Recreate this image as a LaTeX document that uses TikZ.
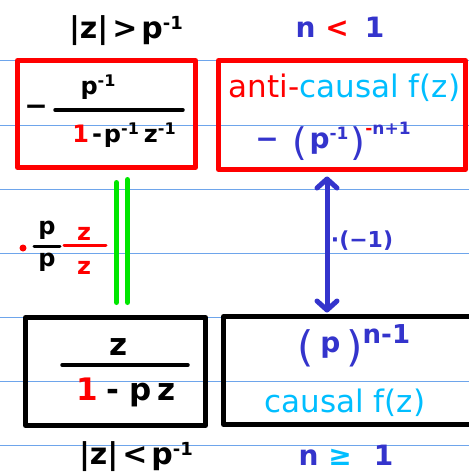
\documentclass[tikz,border=0pt]{standalone}
\usepackage{fontspec}
\setmainfont{DejaVu Sans}
\usetikzlibrary{arrows.meta}
\definecolor{rulec}{RGB}{110,165,235}
\definecolor{myblue}{RGB}{52,52,204}
\definecolor{myred}{RGB}{255,0,0}
\definecolor{mycyan}{RGB}{0,190,255}
\definecolor{mygreen}{RGB}{0,230,0}
\newcommand\supx[3]{\raisebox{#1}{\fontsize{#2}{#2}\selectfont #3}}
\newcommand\bigpar[1]{\raisebox{-7pt}{\fontsize{38}{38}\selectfont\mdseries #1}}
\newcommand\hugepar[1]{\raisebox{-9pt}{\fontsize{42}{42}\selectfont\mdseries #1}}
\begin{document}
\begin{tikzpicture}[x=1pt,y=-1pt,
  rule/.style={draw=rulec, line width=1pt},
  box/.style={draw, line width=5pt, inner sep=0pt, outer sep=0pt, line join=round},
  hw/.style={inner sep=0pt, font=\fontsize{28}{30}\selectfont\bfseries},
  hwt/.style={inner sep=0pt, font=\fontsize{30}{32}\selectfont\bfseries},
  hwf/.style={inner sep=0pt, font=\fontsize{24}{26}\selectfont\bfseries},
  hwl/.style={inner sep=0pt, font=\fontsize{31}{33}\selectfont\bfseries},
  typed/.style={inner sep=0pt, font=\fontsize{31}{33}\selectfont},
  fbar/.style={line width=3.5pt, line cap=round},
  gline/.style={draw=mygreen, line width=5pt, line cap=round},
  barrow/.style={draw=myblue, line width=5pt, {Straight Barb[length=9pt,width=20pt,round]}-{Straight Barb[length=9pt,width=20pt,round]}}]
\useasboundingbox (0,0) rectangle (469,472);
\clip (0,0) rectangle (469,472);
\fill[white] (0,0) rectangle (469,472);
\foreach \yy in {60,125,189,253,317,381,445} \draw[rule] (0,\yy) -- (469,\yy);

% boxes
\node[box, draw=myred, minimum width=178pt, minimum height=107pt] (tl) at (106.5,114) {};
\node[box, draw=myred, minimum width=247pt, minimum height=109pt] (tr) at (342,115) {};
\node[box, draw=black, minimum width=180pt, minimum height=108pt] (bl) at (115.5,371.5) {};
\node[box, draw=black, minimum width=257pt, minimum height=108pt] (br) at (352,370.5) {};

% top labels
\node[hwt, anchor=base] (c1) at (126,38) {|z|\hspace{4pt}>\hspace{4pt}p\supx{9pt}{18}{-1}};
\node[hw, anchor=base, text=myblue] (c2) at (340,37) {n\hspace{10pt}\textcolor{myred}{<}\hspace{16pt}1};

% top-left box
\node[hw, anchor=center] (tlm) at (36,110) {−};
\coordinate (tlb1) at (55,110);
\coordinate (tlb2) at (183,110);
\draw[fbar] (tlb1) -- (tlb2);
\node[hwf, anchor=base] (tln) at (98,94) {p\supx{8pt}{16}{-1}};
\node[hwf, anchor=base] (tld) at (124,142) {\textcolor{myred}{1}\hspace{3pt}-\hspace{2pt}p\supx{8pt}{16}{-1}\hspace{5pt}z\supx{8pt}{16}{-1}};

% top-right box
\node[typed, anchor=base] (tr1) at (344.5,97) {\textcolor{myred}{anti-}\textcolor{mycyan}{causal f(z)}};
\node[hw, anchor=base, text=myblue] (tr2) at (333,148) {−\hspace{14pt}\bigpar{(}\hspace{2pt}p\supx{9pt}{17}{-1}\hspace{2pt}\bigpar{)}\supx{14pt}{17}{\textcolor{myred}{-}n+1}};

% green equality
\coordinate (g1) at (116.5,0);
\coordinate (g2) at (127.5,0);
\draw[gline, shorten <=15pt, shorten >=15pt] (g1 |- tl.south) -- (g1 |- bl.north);
\draw[gline, shorten <=12pt, shorten >=15pt] (g2 |- tl.south) -- (g2 |- bl.north);

% left annotation
\node[circle, fill=myred, inner sep=0pt, minimum size=7pt] (dot) at (23,248) {};
\node[hwf, anchor=base] (pn) at (47,234) {p};
\node[hwf, anchor=base] (pd) at (47,266) {p};
\coordinate (pb1) at (34,246);
\coordinate (pb2) at (60,246);
\draw[fbar, line width=3pt] (pb1) -- (pb2);
\node[hwf, anchor=base, text=myred] (zn) at (84,240) {z};
\node[hwf, anchor=base, text=myred] (zd) at (84,274) {z};
\coordinate (zb1) at (64,245);
\coordinate (zb2) at (106,245);
\draw[fbar, line width=3pt, draw=myred] (zb1) -- (zb2);

% arrow
\coordinate (ax) at (327,0);
\draw[barrow, shorten <=7pt, shorten >=4pt] (ax |- tr.south) -- (ax |- br.north);
\node[anchor=base, text=myblue, inner sep=0pt, font=\fontsize{22}{24}\selectfont\bfseries] (lab) at (362,247) {·(−1)};

% bottom-left box
\node[hwl, anchor=base] (bln) at (119,355) {z};
\coordinate (blb1) at (62,365);
\coordinate (blb2) at (188,365);
\draw[fbar] (blb1) -- (blb2);
\node[hwl, anchor=base] (bld) at (126,400) {\textcolor{myred}{1}\hspace{8pt}-\hspace{10pt}p\hspace{6pt}z};

% bottom-right box
\node[hw, anchor=base, text=myblue] (br1) at (354,352) {\hugepar{(}\hspace{6pt}p\hspace{6pt}\hugepar{)}\supx{9pt}{26}{n-1}};
\node[typed, anchor=base, text=mycyan] (br2) at (345,412) {causal f(z)};

% bottom labels
\node[hwt, anchor=base] (c3) at (136,464) {|z|\hspace{4pt}<\hspace{4pt}p\supx{9pt}{18}{-1}};
\node[hw, anchor=base, text=myblue] (c4) at (346,465) {n\hspace{10pt}\textcolor{mycyan}{≥}\hspace{22pt}1};
\end{tikzpicture}
\end{document}
